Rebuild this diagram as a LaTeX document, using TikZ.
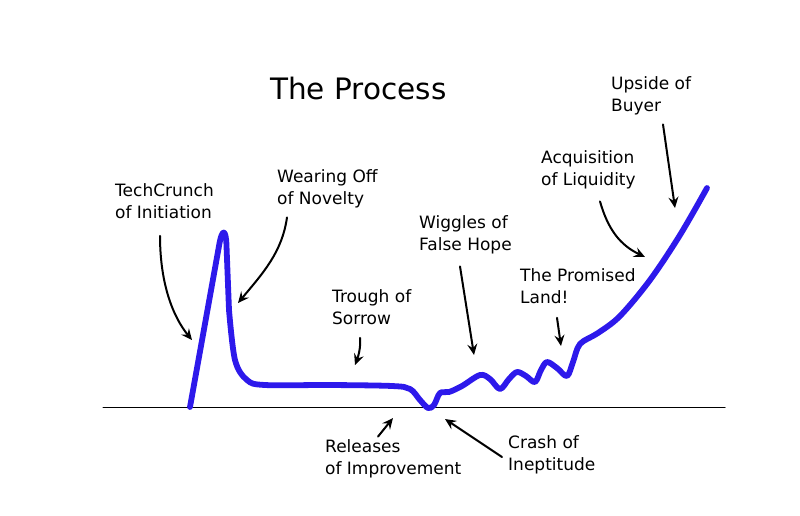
\documentclass[tikz,border=0pt]{standalone}
\usepackage{fontspec}
\setmainfont{DejaVu Sans}
\usetikzlibrary{arrows.meta}
\definecolor{hypeblue}{RGB}{45,25,235}

\begin{document}
\begin{tikzpicture}[x=1pt, y=-1pt, line join=round, line cap=round,
    label/.style={anchor=west, align=left, inner sep=0pt, font=\fontsize{17}{22}\selectfont},
    pointer/.style={draw=black, line width=2pt, -{Stealth[length=11pt,width=10pt,inset=4pt]}}]
  % ========================================================
  % 0. CANVAS AND AXIS
  % ========================================================
  \useasboundingbox (0,0) rectangle (800,515);
  \draw[line width=1pt] (103,407) -- (725,407);

  % ========================================================
  % 1. THE HYPE CURVE
  % ========================================================
  \draw[hypeblue, line width=5.8pt]
    (190,407) -- (219,246) .. controls (222,228) and (226,228) .. (226.5,246)
    -- plot[smooth, tension=0.55] coordinates {
      (229,310) (235,360) (247,380) (265,385) (330,385) (392,386)
      (410,389) (420,400) (428,408) (434,405) (440,393) (449,392)
      (462,386) (480,375) (490,379) (500,389) (509,379) (517,372)
      (526,376) (535,382) (541,370) (547,362) (557,368) (567,376)
      (573,362) (580,344) (598,333) (620,316) (650,280) (680,235) (707,188)};

  % ========================================================
  % 2. LABELS
  % ========================================================
  \node[anchor=west, inner sep=0pt, font=\fontsize{29.5}{34}\selectfont] (title) at (270,88) {The Process};

  \node[label] (techcrunch) at (115,201.5) {TechCrunch\\of Initiation};
  \node[label] (wearing)    at (277,189)   {Wearing Off\\of Novelty};
  \node[label] (trough)     at (332,307)   {Trough of\\Sorrow};
  \node[label] (wiggles)    at (419,234.5) {Wiggles of\\False Hope};
  \node[label] (promised)   at (520,286)   {The Promised\\Land!};
  \node[label] (acquire)    at (541,169.5) {Acquisition\\of Liquidity};
  \node[label] (upside)     at (611,96)    {Upside of\\Buyer};
  \node[label] (releases)   at (325,459)   {Releases\\of Improvement};
  \node[label] (crash)      at (508,454.5) {Crash of\\Ineptitude};

  % ========================================================
  % 3. ARROW TIPS ON THE CURVE
  % ========================================================
  \coordinate (techcrunch-tip) at (192,340);
  \coordinate (wearing-tip)    at (238,303);
  \coordinate (trough-tip)     at (355,365);
  \coordinate (wiggles-tip)    at (474,355);
  \coordinate (promised-tip)   at (561,346);
  \coordinate (acquire-tip)    at (645,257);
  \coordinate (upside-tip)     at (675,208);
  \coordinate (releases-tip)   at (393,418);
  \coordinate (crash-tip)      at (445,419);

  % ========================================================
  % 4. POINTERS
  % ========================================================
  \draw[pointer] ([shift={(45,16.5)}]techcrunch.south west) .. controls +(0,50) and +(-18,-22) .. (techcrunch-tip);
  \draw[pointer] ([shift={(10,9)}]wearing.south west) .. controls +(-5,35) and +(25,-30) .. (wearing-tip);
  \draw[pointer] ([shift={(28,13)}]trough.south west) .. controls +(1,10) and +(3,-8) .. (trough-tip);
  \draw[pointer] ([shift={(41,12.5)}]wiggles.south west) -- (wiggles-tip);
  \draw[pointer] ([shift={(37,14)}]promised.south west) -- (promised-tip);
  \draw[pointer] ([shift={(59,12.5)}]acquire.south west) .. controls +(8,28) and +(-25,-12) .. (acquire-tip);
  \draw[pointer] ([shift={(52,9)}]upside.south west) -- (upside-tip);
  \draw[pointer] ([shift={(53,-3)}]releases.north west) -- (releases-tip);
  \draw[pointer] ([shift={(-6,2.5)}]crash.west) -- (crash-tip);
\end{tikzpicture}
\end{document}
